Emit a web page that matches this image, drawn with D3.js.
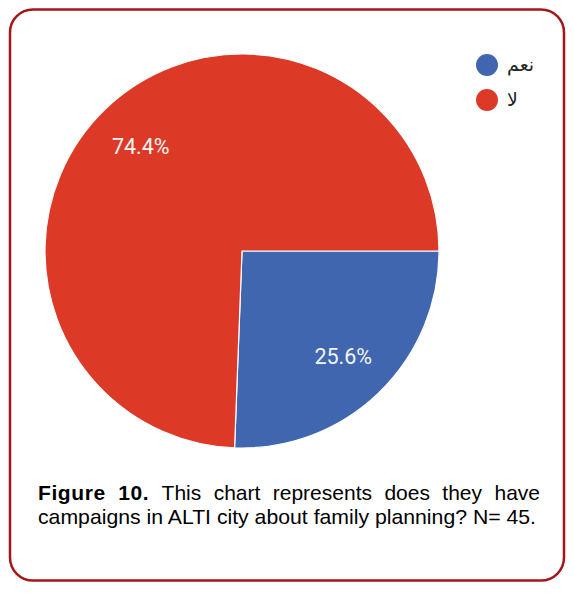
<!DOCTYPE html>
<html>
<head>
<meta charset="utf-8">
<script src="https://cdn.jsdelivr.net/npm/d3@7"></script>
<style>
  body { margin: 0; background: #fff; }
  svg { display: block; }
</style>
</head>
<body>
<div id="chart"></div>
<script>
// Chart data
var categories = ["نعم", "لا"];
var values = [25.6, 74.4];
var colors = ["#4066b0", "#dc3a27"];

// Caption
var captionBold = "Figure 10.";
var captionLine1 = "This chart represents does they have";
var captionLine2 = "campaigns in ALTI city about family planning? N= 45.";

var svgWidth = 574;
var svgHeight = 593;

var svg = d3.select("#chart")
    .append("svg")
    .attr("width", svgWidth)
    .attr("height", svgHeight);

// Frame
svg.append("rect")
    .attr("x", 10)
    .attr("y", 9.5)
    .attr("width", 554)
    .attr("height", 571)
    .attr("rx", 23)
    .attr("fill", "none")
    .attr("stroke", "#a3161a")
    .attr("stroke-width", 2.5);

// Pie
var radius = 197;
var pieGroup = svg.append("g")
    .attr("transform", "translate(242, 251)");

var pie = d3.pie()
    .sort(null)
    .startAngle(Math.PI / 2)
    .endAngle(Math.PI / 2 + 2 * Math.PI);

var arc = d3.arc().innerRadius(0).outerRadius(radius);
var labelArc = d3.arc().innerRadius(146).outerRadius(146);

pieGroup.selectAll("path")
    .data(pie(values))
    .enter()
    .append("path")
    .attr("d", arc)
    .attr("fill", (d, i) => colors[i])
    .attr("stroke", "#fff")
    .attr("stroke-width", 1.2);

pieGroup.selectAll("text")
    .data(pie(values))
    .enter()
    .append("text")
    .attr("transform", d => `translate(${labelArc.centroid(d)})`)
    .attr("text-anchor", "middle")
    .attr("dy", "0.36em")
    .attr("font-family", "Roboto, sans-serif")
    .attr("font-size", 21.5)
    .attr("fill", "#f4f4f4")
    .text(d => d.data.toFixed(1) + "%");

// Legend
var legend = svg.append("g")
    .attr("transform", "translate(487, 65)");

var legendItems = legend.selectAll("g")
    .data(categories)
    .enter()
    .append("g")
    .attr("transform", (d, i) => `translate(0, ${i * 35})`);

legendItems.append("circle")
    .attr("r", 11)
    .attr("fill", (d, i) => colors[i]);

legendItems.append("text")
    .attr("x", 20)
    .attr("dy", "0.3em")
    .attr("font-family", "DejaVu Sans, sans-serif")
    .attr("font-size", 19)
    .attr("fill", "#222")
    .text(d => d);

// Caption, first line justified word by word
var capLeft = 38, capRight = 540;
var capFont = "Liberation Sans, Arial, sans-serif";
var line1 = svg.append("g")
    .attr("font-family", capFont)
    .attr("font-size", 21)
    .attr("fill", "#000");

var words = captionBold.split(" ").map(w => ({t: w, bold: true})).concat(
    captionLine1.split(" ").map(w => ({t: w, bold: false})));

var wordNodes = words.map(w => line1.append("text")
    .attr("y", 500)
    .attr("font-weight", w.bold ? "bold" : "normal")
    .attr("letter-spacing", w.bold ? 0.6 : 0)
    .text(w.t));

var totalW = d3.sum(wordNodes, n => n.node().getComputedTextLength());
var gap = (capRight - capLeft - totalW) / (wordNodes.length - 1);
var xPos = capLeft;
wordNodes.forEach(function (n) {
    n.attr("x", xPos);
    xPos += n.node().getComputedTextLength() + gap;
});

svg.append("text")
    .attr("x", capLeft)
    .attr("y", 524)
    .attr("font-family", capFont)
    .attr("font-size", 21)
    .attr("fill", "#000")
    .attr("textLength", 498)
    .attr("lengthAdjust", "spacingAndGlyphs")
    .text(captionLine2);
</script>
</body>
</html>
